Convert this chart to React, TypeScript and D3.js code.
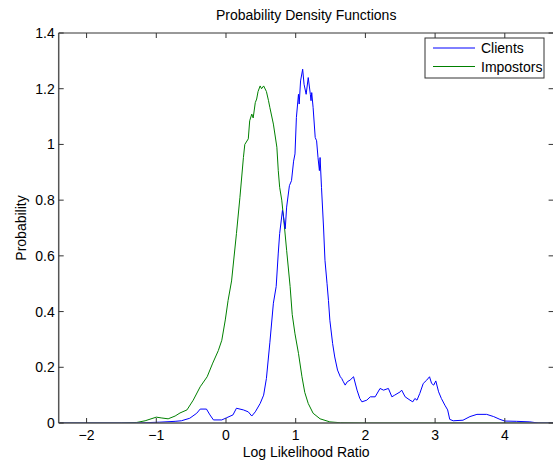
import React from 'react';
import * as d3 from 'd3';

const xTicks = [-2, -1, 0, 1, 2, 3, 4];
const yTicks = [0, 0.2, 0.4, 0.6, 0.8, 1, 1.2, 1.4];
const seriesNames = ['Clients', 'Impostors'];

const clientsX = [-2.4, -1.28, -0.95, -0.73, -0.64, -0.52, -0.42, -0.37, -0.28, -0.23, -0.18, -0.06, 0.01, 0.10, 0.15, 0.25, 0.32, 0.37, 0.42, 0.49, 0.54, 0.58, 0.63, 0.68, 0.72, 0.75, 0.77, 0.81, 0.82, 0.85, 0.87, 0.91, 0.94, 0.97, 0.99, 1.01, 1.04, 1.05, 1.07, 1.10, 1.12, 1.15, 1.18, 1.21, 1.22, 1.23, 1.25, 1.28, 1.30, 1.32, 1.34, 1.35, 1.37, 1.40, 1.42, 1.45, 1.47, 1.49, 1.53, 1.56, 1.60, 1.64, 1.66, 1.68, 1.71, 1.74, 1.78, 1.83, 1.88, 1.92, 1.95, 2.02, 2.07, 2.14, 2.21, 2.26, 2.33, 2.38, 2.42, 2.50, 2.52, 2.57, 2.64, 2.68, 2.71, 2.74, 2.78, 2.83, 2.88, 2.92, 2.95, 2.98, 3.01, 3.05, 3.09, 3.14, 3.18, 3.21, 3.26, 3.40, 3.50, 3.60, 3.74, 3.84, 3.93, 4.00, 4.17, 4.36, 4.48, 4.7];
const clientsY = [0, 0.0, 0.003, 0.006, 0.008, 0.017, 0.035, 0.05, 0.05, 0.029, 0.011, 0.011, 0.019, 0.029, 0.053, 0.047, 0.04, 0.025, 0.04, 0.07, 0.10, 0.16, 0.29, 0.43, 0.49, 0.61, 0.68, 0.763, 0.75, 0.697, 0.775, 0.852, 0.87, 0.94, 0.966, 1.097, 1.18, 1.145, 1.228, 1.27, 1.216, 1.18, 1.24, 1.18, 1.157, 1.186, 1.132, 1.025, 1.013, 0.953, 0.906, 0.953, 0.846, 0.70, 0.584, 0.50, 0.44, 0.369, 0.285, 0.237, 0.19, 0.166, 0.16, 0.15, 0.136, 0.148, 0.154, 0.166, 0.118, 0.088, 0.076, 0.082, 0.094, 0.094, 0.124, 0.118, 0.124, 0.094, 0.10, 0.112, 0.118, 0.094, 0.082, 0.076, 0.088, 0.082, 0.106, 0.142, 0.154, 0.166, 0.142, 0.136, 0.151, 0.112, 0.088, 0.064, 0.047, 0.013, 0.008, 0.01, 0.023, 0.031, 0.031, 0.023, 0.013, 0.007, 0.006, 0.004, 0, 0];

const impostorsX = [-2.4, -1.5, -1.28, -1.16, -1.00, -0.92, -0.83, -0.73, -0.66, -0.56, -0.47, -0.37, -0.27, -0.19, -0.11, -0.06, -0.01, 0.03, 0.08, 0.15, 0.20, 0.25, 0.27, 0.32, 0.34, 0.37, 0.39, 0.42, 0.44, 0.46, 0.49, 0.51, 0.54, 0.58, 0.61, 0.63, 0.68, 0.73, 0.75, 0.77, 0.80, 0.83, 0.87, 0.92, 0.95, 0.99, 1.04, 1.09, 1.13, 1.18, 1.25, 1.35, 1.49, 1.64, 2.0, 4.7];
const impostorsY = [0, 0, 0.002, 0.008, 0.021, 0.018, 0.015, 0.025, 0.036, 0.047, 0.082, 0.13, 0.166, 0.215, 0.26, 0.297, 0.37, 0.44, 0.51, 0.68, 0.81, 0.953, 1.0, 1.02, 1.085, 1.109, 1.095, 1.15, 1.163, 1.19, 1.21, 1.2, 1.21, 1.19, 1.157, 1.132, 1.073, 0.99, 0.906, 0.846, 0.80, 0.727, 0.62, 0.49, 0.39, 0.32, 0.25, 0.166, 0.11, 0.07, 0.035, 0.015, 0.004, 0.001, 0, 0];

const COLORS = ['#0000ff', '#008000'];
const FONT = '"Liberation Sans", Arial, Helvetica, sans-serif';

export default function App() {
  const W = 553, H = 462;
  const x = d3.scaleLinear().domain([-2.4, 4.7]).range([58.7, 553.6]);
  const y = d3.scaleLinear().domain([0, 1.4]).range([423, 33]);
  const line = d3.line<[number, number]>().x(d => x(d[0])).y(d => y(d[1]));
  const clients: [number, number][] = clientsX.map((v, i) => [v, clientsY[i]]);
  const impostors: [number, number][] = impostorsX.map((v, i) => [v, impostorsY[i]]);
  const [x0, x1] = x.range();
  const [y0, y1] = y.range();
  const tl = 5;
  const fmtY = (v: number) => (Math.round(v * 10) / 10).toString();
  const fmtX = (v: number) => (v < 0 ? '\u2212' + Math.abs(v) : String(v));
  const lgX = 425, lgY = 38, lgW = 119, lgH = 40;

  return (
    <svg width={W} height={H} style={{ position: 'absolute', left: 0, top: 0, background: '#fff' }} fontFamily={FONT}>
      <rect x={0} y={0} width={W} height={H} fill="#fff" />
      <defs>
        <clipPath id="plotclip">
          <rect x={x0} y={y1} width={x1 - x0} height={y0 - y1} />
        </clipPath>
      </defs>
      <g clipPath="url(#plotclip)">
        <path d={line(impostors) || ''} fill="none" stroke={COLORS[1]} strokeWidth={1} />
        <path d={line(clients) || ''} fill="none" stroke={COLORS[0]} strokeWidth={1} />
      </g>
      <line x1={x0} x2={x1} y1={y1} y2={y1} stroke="#333" strokeWidth={1} />
      <line x1={x0} x2={x1} y1={y0} y2={y0} stroke="#555" strokeWidth={1.5} />
      <line x1={x0} x2={x0} y1={y1} y2={y0} stroke="#555" strokeWidth={1.5} />
      <line x1={x1} x2={x1} y1={y1} y2={y0} stroke="#333" strokeWidth={1} />
      {xTicks.map(t => (
        <g key={'xt' + t}>
          <line x1={x(t)} x2={x(t)} y1={y0} y2={y0 - tl} stroke="#333" />
          <line x1={x(t)} x2={x(t)} y1={y1} y2={y1 + tl} stroke="#333" />
          <text x={x(t)} y={440} fontSize={14} textAnchor="middle" fill="#000">{fmtX(t)}</text>
        </g>
      ))}
      {yTicks.map(t => (
        <g key={'yt' + t}>
          <line x1={x0} x2={x0 + tl} y1={y(t)} y2={y(t)} stroke="#333" />
          <line x1={x1} x2={x1 - tl} y1={y(t)} y2={y(t)} stroke="#333" />
          <text x={x0 - 4} y={y(t) + 5} fontSize={14} textAnchor="end" fill="#000">{fmtY(t)}</text>
        </g>
      ))}
      <text x={(x0 + x1) / 2} y={20} fontSize={14} textAnchor="middle" fill="#000">Probability Density Functions</text>
      <text x={(x0 + x1) / 2} y={457} fontSize={14} textAnchor="middle" fill="#000">Log Likelihood Ratio</text>
      <text transform={`translate(26, ${(y0 + y1) / 2}) rotate(-90)`} fontSize={14} textAnchor="middle" fill="#000">Probability</text>
      <rect x={lgX} y={lgY} width={lgW} height={lgH} fill="#fff" stroke="#333" strokeWidth={1} />
      {seriesNames.map((n, i) => (
        <g key={n}>
          <line x1={lgX + 8} x2={lgX + 50} y1={lgY + 10 + i * 18.5} y2={lgY + 10 + i * 18.5} stroke={COLORS[i]} strokeWidth={1} />
          <text x={lgX + 56} y={lgY + 15 + i * 18.5} fontSize={14} fill="#000">{n}</text>
        </g>
      ))}
    </svg>
  );
}
